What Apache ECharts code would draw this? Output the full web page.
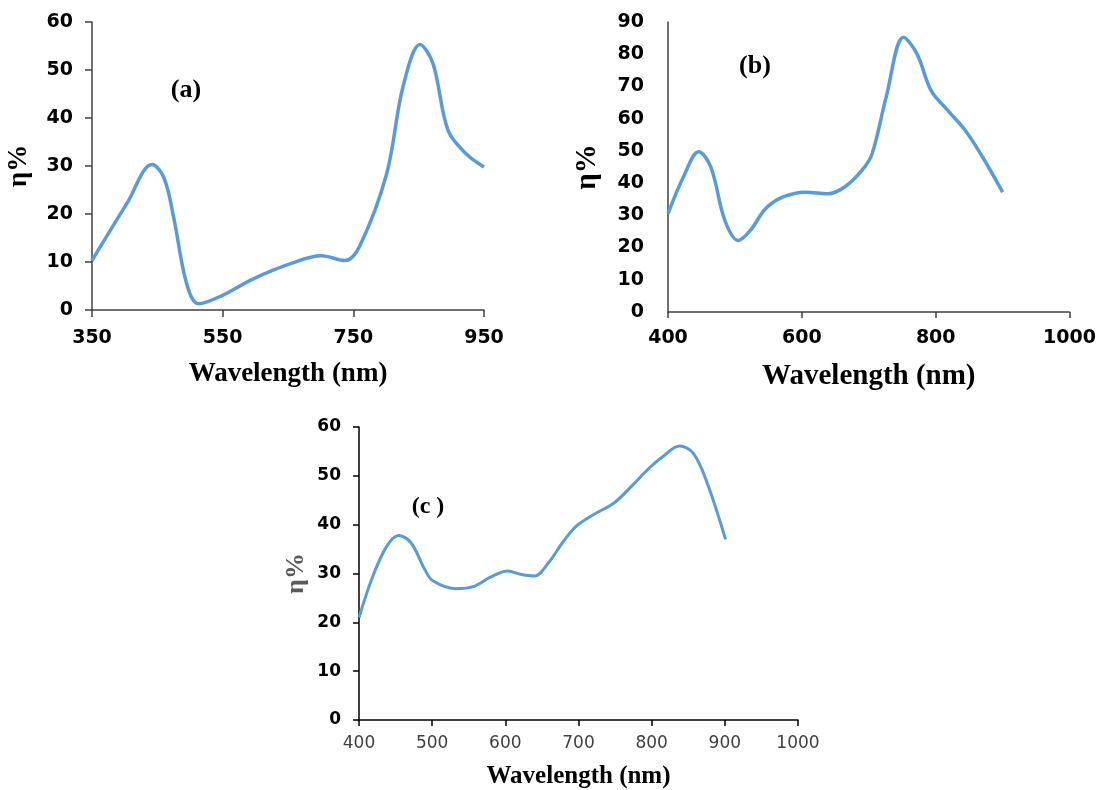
<!DOCTYPE html>
<html>
<head>
<meta charset="utf-8">
<script src="https://cdn.jsdelivr.net/npm/echarts@6/dist/echarts.min.js"></script>
<style>html,body{margin:0;padding:0;background:#fff}#c{width:1099px;height:790px}</style>
</head>
<body>
<div id="c"></div>
<script>
// Panel (a)
const aWave = [350, 403, 442, 460, 475, 495, 513, 549, 597, 653, 701, 737, 760, 801, 826, 852, 872, 895, 923, 950];
const aEta  = [10.3, 22.1, 30.3, 27.6, 19.3, 5.4, 1.3, 3.0, 6.5, 9.6, 11.3, 10.3, 13.4, 28.4, 46.5, 55.3, 51.3, 37.4, 32.5, 29.8];
const aXTicks = [350, 550, 750, 950];
// Panel (b)
const bWave = [400, 423, 446, 464, 485, 505, 523, 546, 572, 605, 639, 664, 690, 705, 726, 752, 772, 793, 818, 844, 870, 900];
const bEta  = [30.5, 41.9, 49.7, 45.0, 28.4, 22.2, 25.3, 32.1, 35.7, 37.2, 36.7, 38.8, 44.0, 49.1, 66.7, 85.3, 80.1, 68.8, 62.6, 56.4, 48.1, 37.2];
// Panel (c)
const cWave = [400, 419, 438, 454, 471, 490, 501, 532, 556, 579, 603, 622, 640, 659, 678, 697, 721, 749, 772, 796, 815, 838, 857, 876, 901];
const cEta  = [21.0, 29.5, 35.6, 37.8, 36.3, 30.8, 28.5, 26.9, 27.3, 29.2, 30.5, 29.8, 29.5, 32.2, 36.3, 39.7, 42.1, 44.5, 47.8, 51.5, 53.9, 56.1, 54.6, 48.5, 37.0];

const panelLabels = ['(a)', '(b)', '(c )'];
const xTitle = 'Wavelength (nm)';
const yTitle = 'η%';

const pairs = (xs, ys) => xs.map((x, i) => [x, ys[i]]);
const plain = v => String(v);
const lineColor = '#5B9BD5';
const axisCol = '#404040';
const tickFont = {fontFamily: 'DejaVu Sans', fontWeight: 'bold', fontSize: 19, color: '#000', formatter: plain};
const serifBold = 'Liberation Serif';

const chart = echarts.init(document.getElementById('c'));
chart.setOption({
  animation: false,
  backgroundColor: '#fff',
  grid: [
    {left: 92, top: 22, width: 392, height: 288},
    {left: 668, top: 22, width: 402, height: 290},
    {left: 359, top: 427, width: 439, height: 295}
  ],
  xAxis: [
    {gridIndex: 0, type: 'value', min: 350, max: 950,
     axisLine: {lineStyle: {color: axisCol, width: 1.5}},
     axisTick: {show: true, length: 7, customValues: aXTicks, lineStyle: {color: axisCol, width: 1.5}},
     axisLabel: Object.assign({margin: 19, customValues: aXTicks}, tickFont),
     splitLine: {show: false},
     name: xTitle, nameLocation: 'middle', nameGap: 51,
     nameTextStyle: {fontFamily: serifBold, fontWeight: 'bold', fontSize: 27, color: '#000'}},
    {gridIndex: 1, type: 'value', min: 400, max: 1000, interval: 200,
     axisLine: {lineStyle: {color: axisCol, width: 1.5}},
     axisTick: {show: true, length: 6, lineStyle: {color: axisCol, width: 1.5}},
     axisLabel: Object.assign({margin: 17}, tickFont),
     splitLine: {show: false},
     name: xTitle, nameLocation: 'middle', nameGap: 50,
     nameTextStyle: {fontFamily: serifBold, fontWeight: 'bold', fontSize: 29, color: '#000'}},
    {gridIndex: 2, type: 'value', min: 400, max: 1000, interval: 100,
     axisLine: {lineStyle: {color: '#000', width: 1.5}},
     axisTick: {show: true, length: 6, lineStyle: {color: '#000', width: 1.5}},
     axisLabel: {margin: 15, fontFamily: 'DejaVu Sans', fontSize: 17, color: '#404040', formatter: plain},
     splitLine: {show: false},
     name: xTitle, nameLocation: 'middle', nameGap: 44,
     nameTextStyle: {fontFamily: serifBold, fontWeight: 'bold', fontSize: 25, color: '#000'}}
  ],
  yAxis: [
    {gridIndex: 0, type: 'value', min: 0, max: 60, interval: 10,
     axisLine: {show: true, lineStyle: {color: axisCol, width: 1.5}},
     axisTick: {show: true, length: 7, lineStyle: {color: axisCol, width: 1.5}},
     axisLabel: Object.assign({margin: 19}, tickFont),
     splitLine: {show: false},
     name: yTitle, nameLocation: 'middle', nameGap: 59, nameRotate: 90,
     nameTextStyle: {fontFamily: serifBold, fontWeight: 'bold', fontSize: 27, color: '#000'}},
    {gridIndex: 1, type: 'value', min: 0, max: 90, interval: 10,
     axisLine: {show: true, lineStyle: {color: axisCol, width: 1.5}},
     axisTick: {show: false},
     axisLabel: Object.assign({margin: 24}, tickFont),
     splitLine: {show: false},
     name: yTitle, nameLocation: 'middle', nameGap: 66, nameRotate: 90,
     nameTextStyle: {fontFamily: serifBold, fontWeight: 'bold', fontSize: 29, color: '#000'}},
    {gridIndex: 2, type: 'value', min: 0, max: 60, interval: 10,
     axisLine: {show: true, lineStyle: {color: '#000', width: 1.5}},
     axisTick: {show: true, length: 6, lineStyle: {color: '#000', width: 1.5}},
     axisLabel: {margin: 18, fontFamily: 'DejaVu Sans', fontWeight: 'bold', fontSize: 17, color: '#000', formatter: plain},
     splitLine: {show: false},
     name: yTitle, nameLocation: 'middle', nameGap: 50, nameRotate: 90,
     nameTextStyle: {fontFamily: serifBold, fontWeight: 'bold', fontSize: 26, color: '#595959'}}
  ],
  series: [
    {type: 'line', xAxisIndex: 0, yAxisIndex: 0, data: pairs(aWave, aEta), smooth: 0.35, showSymbol: false,
     lineStyle: {color: lineColor, width: 3.5}},
    {type: 'line', xAxisIndex: 1, yAxisIndex: 1, data: pairs(bWave, bEta), smooth: 0.35, showSymbol: false,
     lineStyle: {color: lineColor, width: 3.5}},
    {type: 'line', xAxisIndex: 2, yAxisIndex: 2, data: pairs(cWave, cEta), smooth: 0.35, showSymbol: false,
     lineStyle: {color: lineColor, width: 3}}
  ],
  graphic: [
    {type: 'text', x: 186, y: 90, style: {text: panelLabels[0], font: 'bold 26px "Liberation Serif"', fill: '#000', align: 'center', verticalAlign: 'middle'}},
    {type: 'text', x: 755, y: 66, style: {text: panelLabels[1], font: 'bold 26px "Liberation Serif"', fill: '#000', align: 'center', verticalAlign: 'middle'}},
    {type: 'text', x: 428, y: 507, style: {text: panelLabels[2], font: 'bold 24px "Liberation Serif"', fill: '#000', align: 'center', verticalAlign: 'middle'}}
  ]
});
</script>
</body>
</html>
